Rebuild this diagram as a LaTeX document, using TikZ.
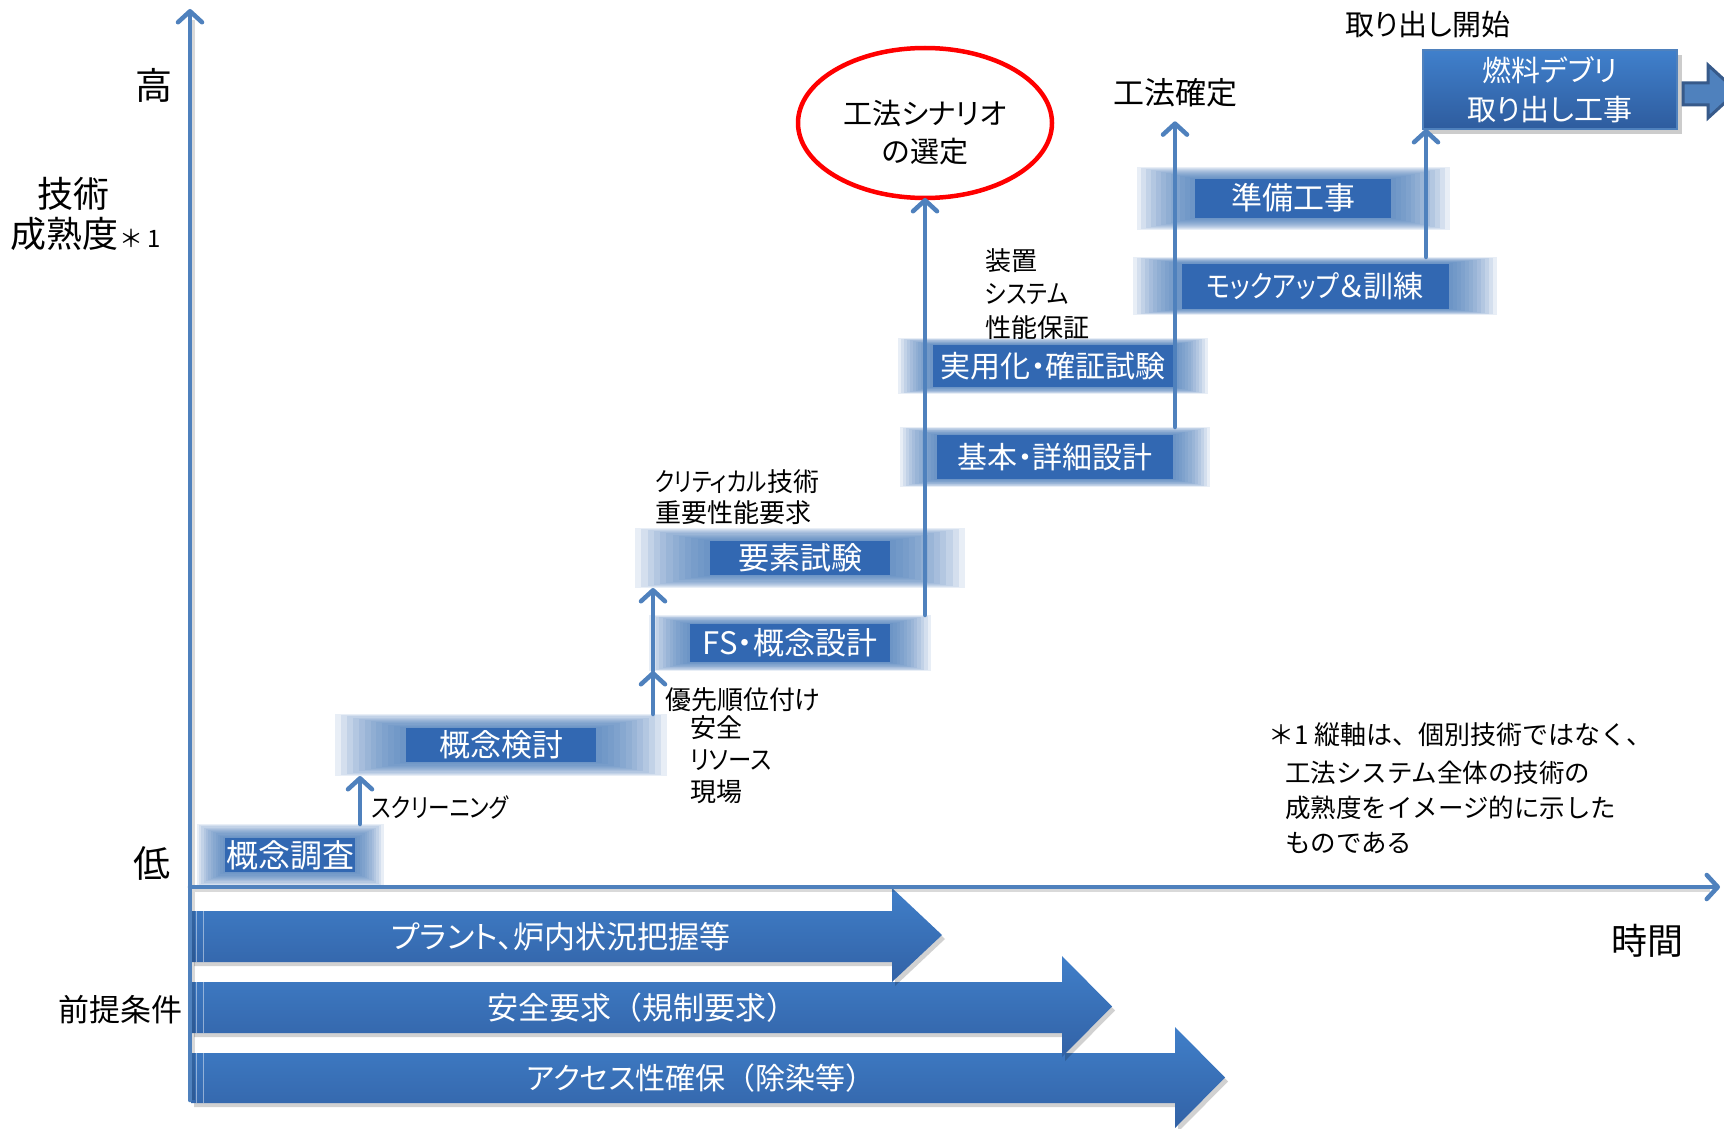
\documentclass[tikz,border=0pt]{standalone}
\usepackage{fontspec}
\usepackage{graphicx}
\setmainfont{Noto Sans CJK JP}[RawFeature=+palt]
\newfontfamily\nopalt{Noto Sans CJK JP}
\usetikzlibrary{arrows.meta,shapes.geometric}
\definecolor{axisblue}{RGB}{79,129,189}
\definecolor{coreblue}{RGB}{50,104,178}
\definecolor{glowblue}{RGB}{79,129,189}
\definecolor{bartop}{RGB}{64,127,201}
\definecolor{barbot}{RGB}{50,98,166}
\definecolor{deepblue}{RGB}{55,90,138}
\definecolor{debtop}{RGB}{64,128,204}
\definecolor{debbot}{RGB}{46,92,158}
\newcommand\fsz[2]{\fontsize{#1}{#2}\selectfont}
\newcommand\kn[2][0.83]{\scalebox{#1}[1]{#2}}
\newcommand\fw[1]{{\nopalt #1}}
% name, cx, cy, core w, core h, outer w, outer h, text
\newcommand\gbox[8]{%
  \foreach \i in {0,...,11}{%
    \pgfmathsetmacro\hw{#6/2-(#6-#4)/2*\i/12}%
    \pgfmathsetmacro\hh{#7/2-(#7-#5)/2*\i/12}%
    \fill[glowblue,opacity=0.13] ({#2-\hw},{#3-\hh}) rectangle ({#2+\hw},{#3+\hh});
  }%
  \fill[coreblue] ({#2-#4/2},{#3-#5/2}) rectangle ({#2+#4/2},{#3+#5/2});
  \node[boxtext,minimum width=#6,minimum height=#7] (#1) at (#2,#3) {#8};
}
% name, y1, y2, head x, head y1, head y2, tip x, text, text x
\newcommand\bararrow[9]{%
  \fill[black,opacity=0.18] (194,{#2+4}) -- ({#4+3},{#2+4}) -- ({#4+3},{#5+4}) -- ({#7+3},{(#5+#6)/2+4}) -- ({#4+3},{#6+4}) -- ({#4+3},{#3+4}) -- (194,{#3+4}) -- cycle;
  \shade[top color=bartop,bottom color=barbot] (191,#2) -- (#4,#2) -- (#4,#5) -- (#7,{(#5+#6)/2}) -- (#4,#6) -- (#4,#3) -- (191,#3) -- cycle;
  \draw[white,opacity=0.45,line width=1pt] (196,#2) -- (196,#3) (203,#2) -- (203,#3);
  \node[bartext] (#1) at (#9,{(#2+#3)/2}) {#8};
}
\begin{document}
\begin{tikzpicture}[x=1pt,y=-1pt,
  every node/.style={inner sep=0pt,outer sep=0pt},
  conn/.style={draw=axisblue,line width=4.5pt,line cap=round,-{Straight Barb[length=11pt,width=24pt,round]}},
  boxtext/.style={text=white,font=\fsz{31}{36}},
  bartext/.style={text=white,font=\fsz{31}{36}},
  lbl/.style={text=black,font=\fsz{26}{32},align=left},
  big/.style={text=black,font=\fsz{37}{42}},
  mid/.style={text=black,font=\fsz{30}{38},align=center}]
\useasboundingbox (0,0) rectangle (1724,1129);
\fill[white] (0,0) rectangle (1724,1129);

% premise bars
\bararrow{bar3}{1053}{1103}{1175}{1027}{1128}{1225}{\fsz{30}{36}アクセス性確保\fw{（}除染等\fw{）}}{701}
\bararrow{bar2}{982}{1033}{1062}{956}{1057}{1112}{安全要求\fw{（}規制要求\fw{）}}{642}
\bararrow{bar1}{911}{962}{892}{888}{982}{942}{プラント、炉内状況把握等}{561}

% glow boxes
\gbox{chosa}{290}{855}{130}{34}{187}{62}{\fsz{32}{36}概念調査}
\gbox{kento}{501}{745}{190}{34}{332}{62}{概念検討}
\gbox{fs}{790}{643}{200}{38}{282}{56}{FS・概念設計}
\gbox{yoso}{800}{558}{180}{34}{330}{60}{要素試験}
\gbox{kihon}{1055}{457}{236}{44}{310}{60}{\fsz{30}{36}基本・詳細設計}
\gbox{jitsu}{1053}{366}{240}{42}{310}{56}{\fsz{30}{36}実用化・確証試験}
\gbox{junbi}{1293}{198}{196}{39}{313}{63}{準備工事}
\gbox{mock}{1315}{286}{267}{45}{364}{58}{\fsz{30}{36}\kn[0.84]{モックアップ}＆訓練}

% debris box
\fill[black,opacity=0.2] (1427,55) rectangle (1682,134);
\node[draw=axisblue,line width=1.5pt,top color=debtop,bottom color=debbot,
  minimum width=254,minimum height=79,text=white,align=center,font=\fsz{29}{39}]
  (debris) at (1550,89.5) {燃料デブリ\\取り出し工事};
\filldraw[fill=axisblue,draw=deepblue,line width=3pt,line join=miter]
  (1683,83) -- (1708,83) -- (1708,65) -- (1737,91.5) -- (1708,118) -- (1708,105) -- (1683,105) -- cycle;

% ellipse
\node[ellipse,draw=red,line width=4.5pt,minimum width=254,minimum height=150] (scen) at (925,123) {};
\node[mid,font=\fsz{29}{38}] (scentext) at (925,133) {工法シナリオ\\の選定};

% labels
\node[big] (hi) at (154,85) {高};
\node[big] (lo) at (152,863) {低};
\node[big,font=\fsz{36}{40}] (gij) at (73,194) {技術};
\node[big,font=\fsz{36}{40},anchor=west] (seij) at (10,234) {成熟度{\fsz{24}{24}\,＊ 1}};
\node[big,font=\fsz{36}{40}] (jikan) at (1647,941) {時間};
\node[mid,font=\fsz{31}{38},anchor=east] (zentei) at (182,1010) {前提条件};
\node[mid,font=\fsz{31}{38}] (koho) at (1175,93) {工法確定};
\node[mid,font=\fsz{29}{38}] (start) at (1428,25) {取り出し開始};

\node[lbl,anchor=west] (scr) at (372,807) {\kn{スクリーニング}};
\node[lbl,anchor=west] (yusen) at (665,700) {優先順位付け};
\node[lbl,anchor=west] (yusen2) at (690,760) {安全\\\kn[0.9]{リソース}\\現場};
\node[lbl,anchor=west,font=\fsz{26}{31}] (crit) at (655,497) {\kn{クリティカル}技術\\重要性能要求};
\node[lbl,anchor=west,font=\fsz{26}{33.5}] (sochi) at (985,294) {装置\\\kn[0.88]{システム}\\性能保証};
\node[lbl,anchor=west,font=\fsz{26}{32}\nopalt] (fn1) at (1268,735) {＊1\hspace{6pt}縦軸は、個別技術ではなく、};
\node[lbl,anchor=west,font=\fsz{25.5}{35}\nopalt] (fn2) at (1285,807) {工法システム全体の技術の\\成熟度をイメージ的に示した\\ものである};

% connectors
\coordinate (scx) at (360,0);
\coordinate (usx) at (653,0);
\coordinate (tdx) at (1426,0);
\draw[conn] (chosa.north -| scx) -- (kento.south -| scx);
\draw[conn] (kento.north -| usx) -- (fs.south -| usx);
\draw[conn] (fs.south -| usx) -- (yoso.south -| usx);
\draw[conn] (fs.north -| scen.south) -- (scen.south);
\draw[conn,shorten >=14pt] (kihon.north -| koho.south) -- (koho.south);
\draw[conn] (mock.north -| tdx) -- (debris.south -| tdx);

% axes
\coordinate (ybot) at (190,1100);
\coordinate (ytop) at (190,9);
\coordinate (xl) at (190,887);
\coordinate (xr) at (1720,887);
\draw[black,opacity=0.15,line width=4pt] (193,1100) -- (193,20) (193,890) -- (1710,890);
\draw[conn] (ybot) -- (ytop);
\draw[conn] (xl) -- (xr);
\end{tikzpicture}
\end{document}
